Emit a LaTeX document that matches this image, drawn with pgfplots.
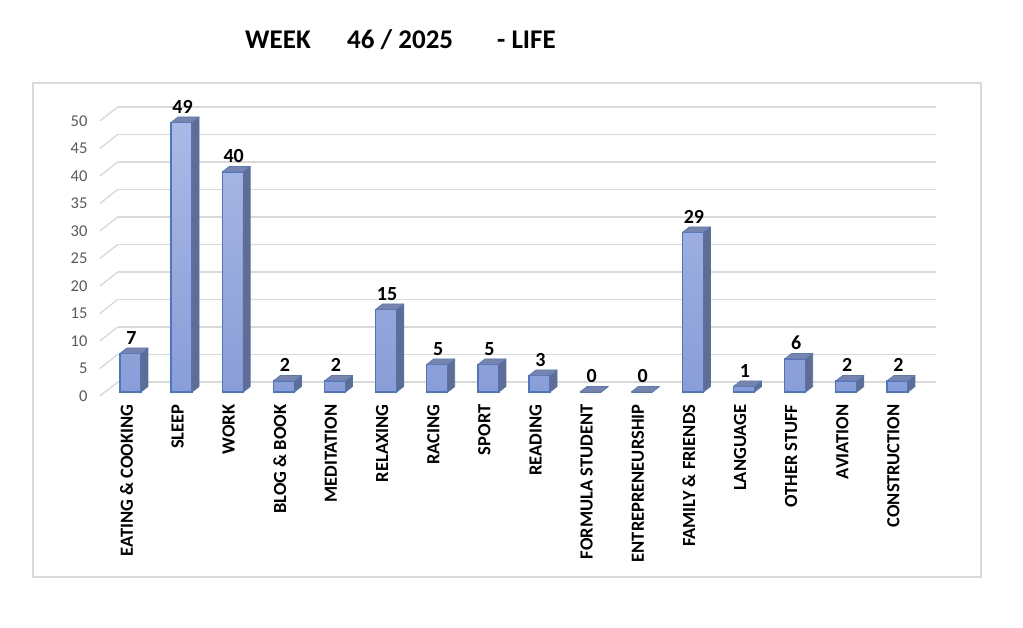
\documentclass[border=0pt]{standalone}
\usepackage{pgfplots}
\pgfplotsset{compat=1.18}
\usepackage{pgfplotstable}
\usepackage{fontspec}
\setmainfont{Carlito}
\definecolor{frontTop}{HTML}{ABB9E4}
\definecolor{frontBot}{HTML}{899DD7}
\definecolor{barEdge}{HTML}{4A75C8}
\definecolor{sideCol}{HTML}{5F6D93}
\definecolor{topCol}{HTML}{7784AC}
\definecolor{gridCol}{HTML}{D9D9D9}
\definecolor{tickCol}{HTML}{595959}
\pgfdeclareplotmark{emptymark}{}
\pgfplotstableread{
x y
0 7
1 49
2 40
3 2
4 2
5 15
6 5
7 5
8 3
9 0
10 0
11 29
12 1
13 6
14 2
15 2
}\lifedata
\begin{document}
\begin{tikzpicture}
\useasboundingbox (0,0) rectangle (1023pt,627pt);
\draw[gridCol, line width=1.2pt] (33pt,50pt) rectangle (981pt,544pt);
\node[anchor=base west, inner sep=0pt, font=\fontsize{27}{32}\selectfont\bfseries] at (245pt,578pt) {WEEK};
\node[anchor=base west, inner sep=0pt, font=\fontsize{27}{32}\selectfont\bfseries] at (347pt,578pt) {46 / 2025};
\node[anchor=base west, inner sep=0pt, font=\fontsize{27}{32}\selectfont\bfseries] at (497pt,578pt) {- LIFE};
\begin{axis}[
  at={(104.9pt,235pt)}, anchor=south west,
  x=51.13pt, y=5.5pt,
  xmin=-0.5, xmax=15.5, ymin=0, ymax=50,
  clip=false,
  axis line style={draw=none},
  major tick length=0pt,
  ytick={0,5,...,50},
  xtick={0,...,15},
  xticklabels={EATING \& COOKING, SLEEP, WORK, BLOG \& BOOK, MEDITATION, RELAXING, RACING, SPORT, READING, FORMULA STUDENT, ENTREPRENEURSHIP, FAMILY \& FRIENDS, LANGUAGE, OTHER STUFF, AVIATION, CONSTRUCTION},
  /pgf/number format/assume math mode=true,
  yticklabel style={xshift=-14pt, yshift=-4pt, anchor=east, text=tickCol, font=\fontsize{16.5}{19}\selectfont},
  xticklabel style={xshift=-4pt, yshift=-9pt, rotate=90, anchor=east, text=black, font=\fontsize{18.5}{21}\selectfont\bfseries},
]
\pgfplotsinvokeforeach{0,5,...,50}{
  \draw[gridCol, line width=1.4pt] ([shift={(12.8pt,10pt)}]axis cs:-0.5,#1) -- ([shift={(12.8pt,10pt)}]axis cs:15.5,#1);
  \draw[gridCol, line width=1.4pt] ([shift={(-5pt,-4pt)}]axis cs:-0.5,#1) -- ++(17.8pt,14pt);
}
\addplot[ybar, bar width=21pt, bar shift=0pt, draw=barEdge, line width=1.4pt, top color=frontTop, bottom color=frontBot,
  nodes near coords,
  every node near coord/.append style={anchor=south, xshift=1pt, yshift=5pt, text=black, font=\fontsize{20}{24}\selectfont\bfseries}]
  table[x=x, y=y] {\lifedata};
\addplot[scatter, only marks, mark=emptymark,
  visualization depends on={rawy \as \val},
  scatter/@pre marker code/.code={%
    \pgfmathsetmacro\Hb{5.5-\val*5.5}%
    \pgfmathsetmacro\Hc{-\val*5.5}%
    \filldraw[fill=sideCol, draw=barEdge!70!sideCol, line width=0.8pt, line join=round]
      (10.5pt,0pt) -- (17.5pt,5.5pt) -- (17.5pt,\Hb pt) -- (10.5pt,\Hc pt) -- cycle;
    \filldraw[fill=topCol, draw=barEdge!70!topCol, line width=0.8pt, line join=round]
      (-10.5pt,0pt) -- (-3.5pt,5.5pt) -- (17.5pt,5.5pt) -- (10.5pt,0pt) -- cycle;
  },
  scatter/@post marker code/.code={}]
  table[x=x, y=y] {\lifedata};
\end{axis}
\end{tikzpicture}
\end{document}
